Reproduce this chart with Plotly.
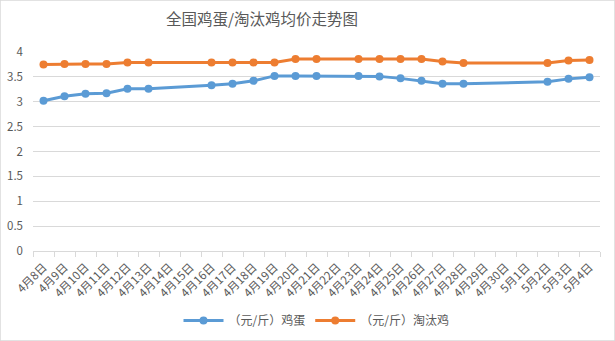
import plotly.graph_objects as go

dates = ["4月8日","4月9日","4月10日","4月11日","4月12日","4月13日","4月14日","4月15日","4月16日",
         "4月17日","4月18日","4月19日","4月20日","4月21日","4月22日","4月23日","4月24日","4月25日",
         "4月26日","4月27日","4月28日","4月29日","4月30日","5月1日","5月2日","5月3日","5月4日"]
egg = [3.02,3.11,3.16,3.17,3.26,3.26,None,None,3.33,3.36,3.42,3.52,3.52,3.52,None,3.52,3.51,3.47,
       3.42,3.36,3.36,None,None,None,3.40,3.46,3.49]
hen = [3.75,3.76,3.76,3.76,3.79,3.79,None,None,3.79,3.79,3.79,3.79,3.86,3.86,None,3.86,3.86,3.86,
       3.86,3.81,3.78,None,None,None,3.78,3.83,3.84]
names = ["（元/斤）鸡蛋", "（元/斤）淘汰鸡"]
colors = ["#5B9BD5", "#ED7D31"]

font = "Microsoft YaHei, Noto Sans CJK SC, sans-serif"
fig = go.Figure()
for name, vals, c in zip(names, [egg, hen], colors):
    fig.add_trace(go.Scatter(x=dates, y=vals, name=name, mode="lines+markers", connectgaps=True,
                             line=dict(color=c, width=3), marker=dict(color=c, size=8)))

fig.update_layout(
    width=615, height=341,
    margin=dict(l=33, r=15, t=52, b=90, autoexpand=False),
    paper_bgcolor="white", plot_bgcolor="white",
    font=dict(family=font, color="#595959", size=11),
    title=dict(text="全国鸡蛋/淘汰鸡均价走势图", x=262/615, xanchor="center", y=1-20/341, yref="container",
               yanchor="middle", font=dict(size=15.5, color="#595959", family=font)),
    showlegend=True,
    legend=dict(orientation="h", x=0.5, xanchor="center", y=0.06, yref="container", yanchor="middle",
                font=dict(size=12, color="#595959"), itemwidth=40),
    xaxis=dict(type="category", range=[-0.5, 26.5], tickangle=-45, tickson="boundaries",
               ticks="outside", ticklen=5, tickcolor="#d9d9d9", showline=True, linecolor="#d9d9d9",
               showgrid=False, tickfont=dict(size=11.5, color="#595959"), ticklabelstandoff=4,
               automargin=False),
    yaxis=dict(range=[0, 4], dtick=0.5, showgrid=True, gridcolor="#d9d9d9", zeroline=False,
               showline=False, tickfont=dict(size=11.5, color="#595959"), ticklabelstandoff=9,
               automargin=False),
    shapes=[dict(type="rect", xref="paper", yref="paper", x0=-33/567, x1=1+15/567,
                 y0=-90/199, y1=1+52/199, line=dict(color="#d9d9d9", width=1.5))],
)
fig.write_html("out.html")
